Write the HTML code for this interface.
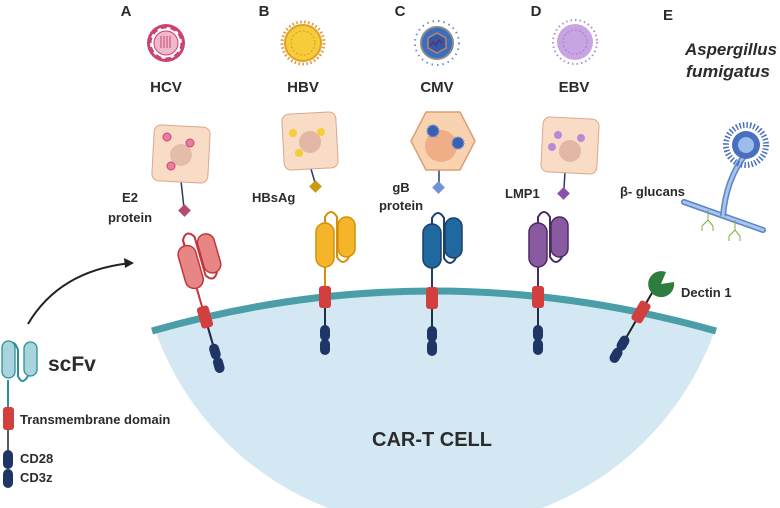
<!DOCTYPE html>
<html><head><meta charset="utf-8"><style>
html,body{margin:0;padding:0;background:#fff}
svg{display:block}
text{font-family:"Liberation Sans",sans-serif;font-weight:bold;fill:#2b2b2b}
</style></head><body>
<svg width="780" height="508" viewBox="0 0 780 508" xmlns="http://www.w3.org/2000/svg">
<defs>
<g id="car">
  <line x1="0" y1="-80" x2="0" y2="40" stroke="currentColor" stroke-width="2"/>
  <line x1="0" y1="10" x2="0" y2="40" stroke="#1f2d4d" stroke-width="2"/>
  <path d="M0,-30 L0,-80 Q6,-90 12,-80 L12,-40 Q18,-30 24,-40" fill="none" stroke="currentColor" stroke-width="2"/>
  <rect x="-9" y="-74" width="18" height="44" rx="9" fill="var(--f)" stroke="currentColor" stroke-width="1.5"/>
  <rect x="13" y="-80" width="17" height="40" rx="8.5" fill="var(--f)" stroke="currentColor" stroke-width="1.5"/>
  <rect x="-6" y="-11" width="12" height="22" rx="3" fill="#d33f3f"/>
  <rect x="-5" y="28" width="10" height="16" rx="5" fill="#1f3566"/>
  <rect x="-5" y="42" width="10" height="16" rx="5" fill="#1f3566"/>
</g>
</defs>

<!-- cell -->
<path d="M155,330 Q432,250 715,330 A297,297 0 0 1 155,330 Z" fill="#d3e8f3"/>
<path d="M152,331 Q432,251 716,331" fill="none" stroke="#4a9ea7" stroke-width="7"/>
<text x="432" y="446" font-size="20" text-anchor="middle">CAR-T CELL</text>

<!-- letters -->
<text x="126" y="16" font-size="15" text-anchor="middle">A</text>
<text x="264" y="16" font-size="15" text-anchor="middle">B</text>
<text x="400" y="16" font-size="15" text-anchor="middle">C</text>
<text x="536" y="16" font-size="15" text-anchor="middle">D</text>
<text x="668" y="20" font-size="15" text-anchor="middle">E</text>

<!-- viruses -->
<g>
  <circle cx="166" cy="43" r="19" fill="#c9446f"/>
  <circle cx="166" cy="43" r="16" fill="#fff" stroke="#c9446f" stroke-width="3" stroke-dasharray="6 4"/>
  <circle cx="166" cy="43" r="12" fill="#f0b8cb" stroke="#c9446f"/>
  <path d="M161,36v12M164,36v12M167,36v12M170,36v12" stroke="#c9446f" stroke-width="1"/>
</g>
<g>
  <circle cx="303" cy="43" r="21" fill="none" stroke="#e49a2a" stroke-width="3" stroke-dasharray="1.5 2.5"/>
  <circle cx="303" cy="43" r="18" fill="#f6cc3a" stroke="#e0a02a" stroke-width="2"/>
  <circle cx="303" cy="43" r="12" fill="none" stroke="#d49a2a" stroke-dasharray="2 2"/>
</g>
<g>
  <circle cx="437" cy="43" r="22" fill="none" stroke="#6b8fd0" stroke-width="2" stroke-dasharray="1.5 4"/>
  <circle cx="437" cy="43" r="16" fill="#3b6fbe" stroke="#8a8a8a" stroke-width="2"/>
  <polygon points="437,33 446,38 446,48 437,53 428,48 428,38" fill="#2f5ba8" stroke="#c27f6a" stroke-width="1.5"/>
  <path d="M430,46 l3,-4 3,3 3,-5 3,3" fill="none" stroke="#6a2d6a" stroke-width="1.5"/>
</g>
<g>
  <circle cx="575" cy="42" r="22" fill="none" stroke="#b48bd3" stroke-width="2" stroke-dasharray="1.5 3"/>
  <circle cx="575" cy="42" r="18" fill="#c8a4e2"/>
  <circle cx="575" cy="42" r="12" fill="none" stroke="#a57cc6" stroke-dasharray="2 2"/>
</g>
<text x="166" y="92" font-size="15" text-anchor="middle">HCV</text>
<text x="303" y="92" font-size="15" text-anchor="middle">HBV</text>
<text x="437" y="92" font-size="15" text-anchor="middle">CMV</text>
<text x="574" y="92" font-size="15" text-anchor="middle">EBV</text>

<!-- infected cells -->
<line x1="181" y1="181" x2="184" y2="208" stroke="#2b3a6b" stroke-width="1.5"/>
<rect x="153" y="126" width="56" height="56" rx="7" fill="#f9dcc6" stroke="#d9a88d" transform="rotate(3 181 154)"/>
<circle cx="181" cy="155" r="11" fill="#e2b7a6" opacity=".9"/>
<circle cx="167" cy="137" r="4" fill="#e87da4" stroke="#c9446f"/><circle cx="190" cy="143" r="4" fill="#e87da4" stroke="#c9446f"/><circle cx="171" cy="166" r="4" fill="#e87da4" stroke="#c9446f"/>
<rect x="180" y="206" width="9" height="9" fill="#b54b6c" transform="rotate(45 184.5 210.5)"/>

<line x1="311" y1="169" x2="316" y2="186" stroke="#2b3a6b" stroke-width="1.5"/>
<rect x="283" y="113" width="54" height="56" rx="7" fill="#f9dcc6" stroke="#d9a88d" transform="rotate(-3 310 141)"/>
<circle cx="310" cy="142" r="11" fill="#e2b7a6"/>
<circle cx="293" cy="133" r="4" fill="#f6cc3a"/><circle cx="321" cy="132" r="4" fill="#f6cc3a"/><circle cx="299" cy="153" r="4" fill="#f6cc3a"/>
<rect x="311" y="182" width="9" height="9" fill="#c99a12" transform="rotate(45 315.5 186.5)"/>

<line x1="439" y1="170" x2="439" y2="185" stroke="#2b3a6b" stroke-width="1.5"/>
<polygon points="426,112 460,112 475,141 460,170 426,170 411,141" fill="#f9d3b0" stroke="#d9a070" stroke-width="1.5" stroke-linejoin="round"/>
<circle cx="441" cy="146" r="16" fill="#efae86"/>
<circle cx="433" cy="131" r="6" fill="#3b5fb0" stroke="#8aa2d8" stroke-width="2" stroke-dasharray="1 1.5"/>
<circle cx="458" cy="143" r="6" fill="#3b5fb0" stroke="#8aa2d8" stroke-width="2" stroke-dasharray="1 1.5"/>
<rect x="434" y="183" width="9" height="9" fill="#6f93d6" transform="rotate(45 438.5 187.5)"/>

<line x1="565" y1="172" x2="564" y2="188" stroke="#2b3a6b" stroke-width="1.5"/>
<rect x="542" y="118" width="56" height="55" rx="7" fill="#f9dcc6" stroke="#d9a88d" transform="rotate(3 570 145)"/>
<circle cx="570" cy="151" r="11" fill="#e2b7a6"/>
<circle cx="558" cy="135" r="4" fill="#b98ad8"/><circle cx="581" cy="138" r="4" fill="#b98ad8"/><circle cx="552" cy="147" r="4" fill="#b98ad8"/>
<rect x="559" y="189" width="9" height="9" fill="#8c4fb0" transform="rotate(45 563.5 193.5)"/>

<text x="130" y="202" font-size="13" text-anchor="middle">E2</text>
<text x="130" y="222" font-size="13" text-anchor="middle">protein</text>
<text x="252" y="202" font-size="13">HBsAg</text>
<text x="401" y="192" font-size="13" text-anchor="middle">gB</text>
<text x="401" y="210" font-size="13" text-anchor="middle">protein</text>
<text x="505" y="198" font-size="13">LMP1</text>

<!-- CARs -->
<g transform="translate(205,317) rotate(-16)" color="#c0383d" style="--f:#e88585"><use href="#car"/></g>
<g transform="translate(325,297)" color="#d4900a" style="--f:#f5b52a"><use href="#car"/></g>
<g transform="translate(432,298)" color="#1c3f6a" style="--f:#1f68a0"><use href="#car"/></g>
<g transform="translate(538,297)" color="#4a2a66" style="--f:#8a5aa0"><use href="#car"/></g>

<!-- Dectin -->
<g transform="translate(641,312) rotate(30)">
  <line x1="0" y1="-30" x2="0" y2="40" stroke="#222" stroke-width="2"/>
  <rect x="-6" y="-11" width="12" height="22" rx="3" fill="#d33f3f"/>
  <rect x="-5" y="28" width="10" height="16" rx="5" fill="#1f3566"/>
  <rect x="-5" y="42" width="10" height="16" rx="5" fill="#1f3566"/>
</g>
<path d="M661,284 L674,282 A13,13 0 1 1 666,272 Z" fill="#2f7d3e"/>
<text x="681" y="297" font-size="13">Dectin 1</text>

<!-- Aspergillus -->
<text x="685" y="55" font-size="16.5" font-style="italic" textLength="92" lengthAdjust="spacingAndGlyphs">Aspergillus</text>
<text x="686" y="77" font-size="16.5" font-style="italic" textLength="84" lengthAdjust="spacingAndGlyphs">fumigatus</text>
<text x="620" y="196" font-size="13">β- glucans</text>
<path d="M684,202 L763,230" stroke="#5b85c8" stroke-width="6" stroke-linecap="round"/>
<path d="M684,202 L763,230" stroke="#a9c4ea" stroke-width="3" stroke-linecap="round"/>
<path d="M723,216 Q726,180 745,155" fill="none" stroke="#5b85c8" stroke-width="6"/>
<path d="M723,216 Q726,180 745,155" fill="none" stroke="#a9c4ea" stroke-width="3"/>
<circle cx="746" cy="145" r="20" fill="none" stroke="#4a6fc0" stroke-width="6" stroke-dasharray="1.5 2"/>
<circle cx="746" cy="145" r="14" fill="#4a6fc0"/>
<circle cx="746" cy="145" r="8" fill="#9bbde8"/>
<g stroke="#7ab040" stroke-width="1" fill="#7ab040">
<path d="M708,210 v10 l-6,6 M708,220 l5,6 M702,226 v5 M713,226 v5" fill="none"/>
<path d="M735,220 v10 l-6,6 M735,230 l5,6 M729,236 v5 M740,236 v5" fill="none"/>
</g>

<!-- legend -->
<path d="M28,324 Q60,270 132,263" fill="none" stroke="#222" stroke-width="2"/>
<polygon points="134,263 124,258 125,268" fill="#222"/>
<path d="M8,370 L8,350 Q13,336 18,350 L18,376 Q22,386 28,376" fill="none" stroke="#2a8f9a" stroke-width="2"/>
<line x1="8" y1="380" x2="8" y2="410" stroke="#2a8f9a" stroke-width="2"/>
<rect x="2" y="341" width="13" height="37" rx="6.5" fill="#a8d4de" stroke="#2a8f9a" stroke-width="1.3"/>
<rect x="24" y="342" width="13" height="34" rx="6.5" fill="#a8d4de" stroke="#2a8f9a" stroke-width="1.3"/>
<text x="48" y="371" font-size="21">scFv</text>
<rect x="3" y="407" width="11" height="23" rx="3" fill="#d33f3f"/>
<line x1="8" y1="430" x2="8" y2="452" stroke="#222" stroke-width="1.5"/>
<rect x="3" y="450" width="10" height="19" rx="5" fill="#1f3566"/>
<rect x="3" y="469" width="10" height="19" rx="5" fill="#1f3566"/>
<text x="20" y="424" font-size="13">Transmembrane domain</text>
<text x="20" y="463" font-size="13">CD28</text>
<text x="20" y="482" font-size="13">CD3z</text>
</svg>
</body></html>
